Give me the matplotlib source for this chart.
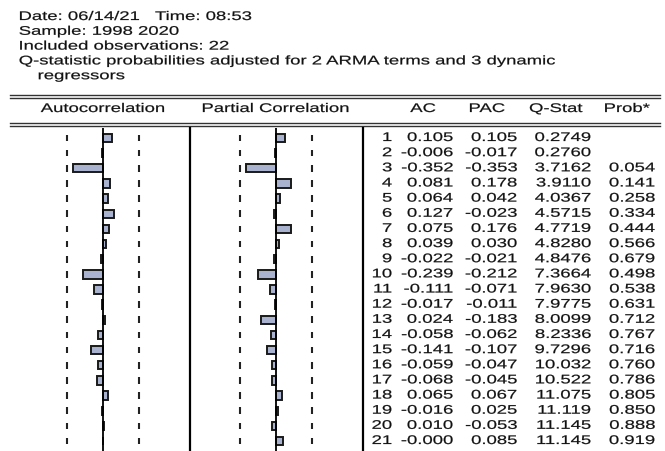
import numpy as np
import matplotlib
matplotlib.use("Agg")
import matplotlib.pyplot as plt
from matplotlib.patheffects import AbstractPathEffect
from matplotlib.transforms import Affine2D

plt.rcParams['font.family'] = ['Liberation Sans', 'DejaVu Sans']

header_lines = [
    "Date: 06/14/21   Time: 08:53",
    "Sample: 1998 2020",
    "Included observations: 22",
    "Q-statistic probabilities adjusted for 2 ARMA terms and 3 dynamic",
]
header_cont = "regressors"
n_obs = 22
col_titles = ["Autocorrelation", "Partial Correlation", "AC", "PAC", "Q-Stat", "Prob*"]

lags = list(range(1, 22))
ac = [0.105, -0.006, -0.352, 0.081, 0.064, 0.127, 0.075, 0.039, -0.022, -0.239,
      -0.111, -0.017, 0.024, -0.058, -0.141, -0.059, -0.068, 0.065, -0.016, 0.010, -0.000]
pac = [0.105, -0.017, -0.353, 0.178, 0.042, -0.023, 0.176, 0.030, -0.021, -0.212,
       -0.071, -0.011, -0.183, -0.062, -0.107, -0.047, -0.045, 0.067, 0.025, -0.053, 0.085]
qstat = ["0.2749", "0.2760", "3.7162", "3.9110", "4.0367", "4.5715", "4.7719", "4.8280",
         "4.8476", "7.3664", "7.9630", "7.9775", "8.0099", "8.2336", "9.7296", "10.032",
         "10.522", "11.075", "11.119", "11.145", "11.145"]
prob = ["", "", "0.054", "0.141", "0.258", "0.334", "0.444", "0.566", "0.679", "0.498",
        "0.538", "0.631", "0.712", "0.767", "0.716", "0.760", "0.786", "0.805", "0.850",
        "0.888", "0.919"]
ac_txt = ["0.105", "-0.006", "-0.352", "0.081", "0.064", "0.127", "0.075", "0.039", "-0.022",
          "-0.239", "-0.111", "-0.017", "0.024", "-0.058", "-0.141", "-0.059", "-0.068",
          "0.065", "-0.016", "0.010", "-0.000"]
pac_txt = ["0.105", "-0.017", "-0.353", "0.178", "0.042", "-0.023", "0.176", "0.030", "-0.021",
           "-0.212", "-0.071", "-0.011", "-0.183", "-0.062", "-0.107", "-0.047", "-0.045",
           "0.067", "0.025", "-0.053", "0.085"]


class Stretch(AbstractPathEffect):
    """Horizontally widen the glyphs (the reference text is stretched)."""

    def __init__(self, sx, pivot='left', stroke=0.15):
        super().__init__()
        self.sx = sx
        self.pivot = pivot
        self.stroke = stroke

    def draw_path(self, renderer, gc, tpath, affine, rgbFace=None):
        ext = tpath.get_extents()
        if self.pivot == 'right':
            p = ext.x1
        elif self.pivot == 'center':
            p = 0.5 * (ext.x0 + ext.x1)
        else:
            p = ext.x0
        t = Affine2D().translate(-p, 0).scale(self.sx, 1).translate(p, 0) + affine
        gc0 = renderer.new_gc()
        gc0.copy_properties(gc)
        gc0.set_linewidth(self.stroke)
        gc0.set_foreground(rgbFace if rgbFace is not None else 'black')
        renderer.draw_path(gc0, tpath, t, rgbFace)
        gc0.restore()


SX = 1.48
W, H = 665, 451
fig = plt.figure(figsize=(W / 100, H / 100), dpi=100)
fig.patch.set_facecolor('white')

bg = fig.add_axes([0, 0, 1, 1])
bg.set_xlim(0, W)
bg.set_ylim(H, 0)
bg.axis('off')

FS = 9


def txt(ax, x, y, s, ha='left'):
    if not s:
        return
    ax.text(x, y, s, fontsize=FS, va='center', ha=ha, color='#111111',
            path_effects=[Stretch(SX, pivot=ha)])


y0 = 17
for i, t in enumerate(header_lines):
    txt(bg, 19, y0 + i * 14.8, t)
txt(bg, 38, y0 + 4 * 14.8, header_cont)

for yy in (94.5, 97.5, 122.5, 125.5):
    bg.plot([10, 660], [yy, yy], color='#333333', lw=1.0)

title_x = [103, 276, 423, 487, 556, 627]
for x, t in zip(title_x, col_titles):
    txt(bg, x, 109, t, ha='center')

for x in (190, 363):
    bg.plot([x, x], [128, H], color='black', lw=1.6)

# panel geometry
row_top_px = 138
row_step = 15.15
body_top, body_bot = 128, H
ylim = (1 + (body_bot - row_top_px) / row_step, 1 + (body_top - row_top_px) / row_step)
scale = 84.5
bound = 2 / np.sqrt(n_obs)


def panel(x_left, x_right, x_zero, vals):
    a = fig.add_axes([x_left / W, 1 - body_bot / H, (x_right - x_left) / W, (body_bot - body_top) / H])
    a.set_xlim((x_left - x_zero) / scale, (x_right - x_zero) / scale)
    a.set_ylim(*ylim)
    a.axis('off')
    a.patch.set_alpha(0)
    a.barh(lags, vals, height=0.55, left=0, color='#A9B3CF', edgecolor='#1a1a1a', linewidth=1.4)
    a.axvline(0, color='black', lw=1.3)
    for b in (-bound, bound):
        a.vlines([b] * len(lags), np.array(lags) - 0.22, np.array(lags) + 0.22, color='#222222', lw=1.5)
    return a


panel(10, 190, 103, ac)
panel(190, 363, 276, pac)

# table
tab = fig.add_axes([363 / W, 1 - body_bot / H, (W - 363) / W, (body_bot - body_top) / H])
tab.set_xlim(363, W)
tab.set_ylim(*ylim)
tab.axis('off')
tab.patch.set_alpha(0)
col_right = [392, 453, 517, 591, 655]
for i, lag in enumerate(lags):
    row = [str(lag), ac_txt[i], pac_txt[i], qstat[i], prob[i]]
    for x, t in zip(col_right, row):
        txt(tab, x, lag, t, ha='right')

fig.savefig('out.png', dpi=100)
